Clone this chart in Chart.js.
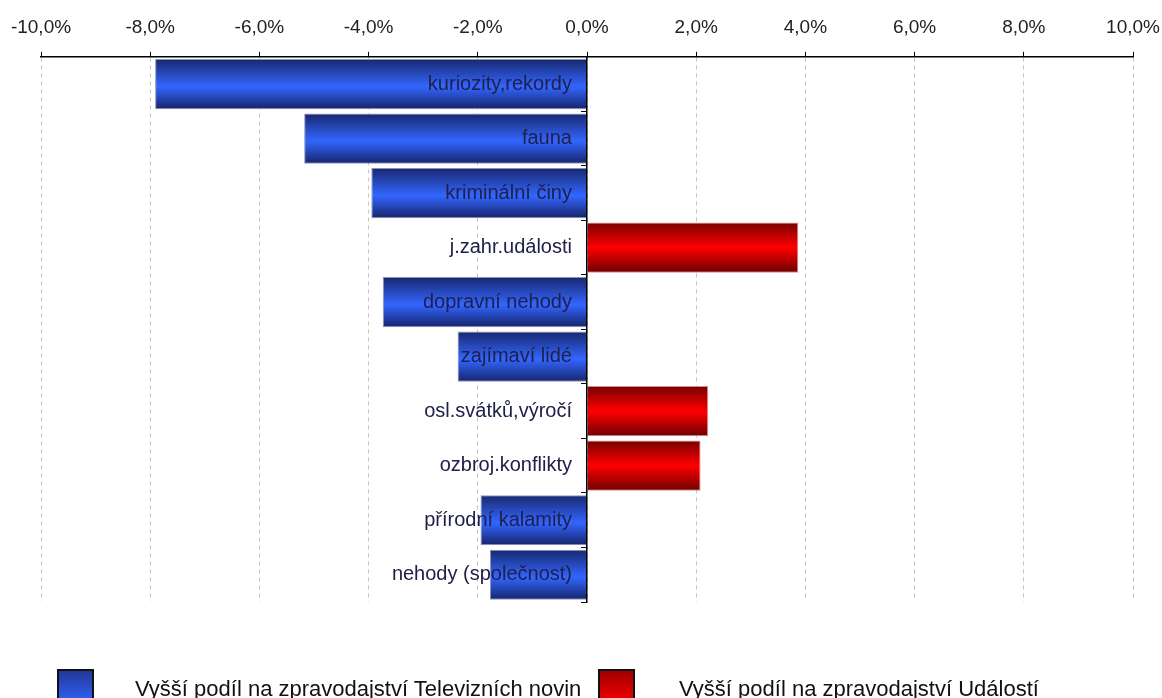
<!DOCTYPE html>
<html lang="cs">
<head>
    <meta charset="UTF-8">
    <title>Podíl témat ve zpravodajství</title>
    <script src="https://cdn.jsdelivr.net/npm/chart.js"></script>
    <style>
        html, body { margin: 0; padding: 0; background: #fff; overflow: hidden; }
        #wrap { position: relative; width: 1162px; height: 698px; }
        .legend-box {
            position: absolute; top: 669px; width: 33px; height: 40px;
            border: 2px solid #111; box-sizing: content-box;
        }
        .legend-text {
            position: absolute; top: 678px; font: 22px "Liberation Sans", Arial, sans-serif;
            color: #111; white-space: nowrap; line-height: 22px;
        }
    </style>
</head>
<body>
<div id="wrap">
    <canvas id="chart"></canvas>
    <!-- legend -->
    <div class="legend-box" style="left:57px; background: linear-gradient(to bottom, #22379a, #3366ff 85%);"></div>
    <div class="legend-text" id="legTv" style="left:135px;"></div>
    <div class="legend-box" style="left:598px; background: linear-gradient(to bottom, #a00000, #ff0000 85%);"></div>
    <div class="legend-text" id="legUd" style="left:679px;"></div>
</div>

<script>
    // categories (top to bottom)
    const categories = [
        'kuriozity,rekordy', 'fauna', 'kriminální činy', 'j.zahr.události', 'dopravní nehody',
        'zajímaví lidé', 'osl.svátků,výročí', 'ozbroj.konflikty', 'přírodní kalamity', 'nehody (společnost)'
    ];
    // difference in share (%), negative = higher share in Televizní noviny
    const tvNovinyShare = [-7.91, -5.18, -3.95, null, -3.74, -2.37, null, null, -1.95, -1.78];
    // positive = higher share in Události
    const udalostiShare = [null, null, null, 3.87, null, null, 2.22, 2.08, null, null];
    const seriesNames = ['Vyšší podíl na zpravodajství Televizních novin', 'Vyšší podíl na zpravodajství Událostí'];
    const xTicks = { min: -10, max: 10, step: 2 };

    document.getElementById('legTv').textContent = seriesNames[0];
    document.getElementById('legUd').textContent = seriesNames[1];

    const barPct = 0.92;
    const FONT = '"Liberation Sans", Arial, sans-serif';

    // vertical gradient for each bar, built from the y scale
    function barGradient(stops, fallback) {
        return function (ctx) {
            const chart = ctx.chart;
            const y = chart.scales.y;
            if (!chart.chartArea || !y || ctx.dataIndex === undefined) return fallback;
            const c = y.getPixelForValue(ctx.dataIndex);
            const half = (y.height / categories.length) * barPct / 2;
            const g = chart.ctx.createLinearGradient(0, c - half, 0, c + half);
            stops.forEach(s => g.addColorStop(s[0], s[1]));
            return g;
        };
    }

    new Chart(document.getElementById('chart'), {
        type: 'bar',
        data: {
            labels: categories,
            datasets: [{
                label: seriesNames[0],
                data: tvNovinyShare,
                backgroundColor: barGradient([[0, '#18286e'], [0.55, '#3366ff'], [1, '#16246a']], '#3366ff'),
                borderColor: '#8a93b8',
                borderWidth: 1
            }, {
                label: seriesNames[1],
                data: udalostiShare,
                backgroundColor: barGradient([[0, '#780000'], [0.5, '#ff0000'], [1, '#6e0000']], '#ff0000'),
                borderColor: '#d98c8c',
                borderWidth: 1
            }]
        },
        options: {
            indexAxis: 'y',
            responsive: true,
            maintainAspectRatio: false,
            animation: false,
            grouped: false,
            barPercentage: barPct,
            categoryPercentage: 1,
            layout: { padding: { left: 41, right: 29, top: 16, bottom: 96 } },
            plugins: {
                legend: { display: false },
                tooltip: { enabled: false }
            },
            scales: {
                x: {
                    type: 'linear',
                    position: 'top',
                    min: xTicks.min,
                    max: xTicks.max,
                    ticks: {
                        stepSize: xTicks.step,
                        padding: 0,
                        color: '#222',
                        font: { family: FONT, size: 19 },
                        callback: v => v.toFixed(1).replace('.', ',') + '%'
                    },
                    grid: {
                        color: '#c4c4c4',
                        lineWidth: 1,
                        // long tick, only the 5px next to the axis line is visible
                        tickLength: 18,
                        tickColor: '#000',
                        tickBorderDash: [5, 13],
                        tickBorderDashOffset: 5
                    },
                    border: { display: true, color: '#000', width: 1.5, dash: [4, 4] }
                },
                // axis line at 0 with the category tick marks
                y: {
                    type: 'category',
                    position: { x: 0 },
                    ticks: { display: false, z: 1 },
                    grid: {
                        drawOnChartArea: false,
                        drawTicks: true,
                        tickLength: 5,
                        tickColor: '#000',
                        offset: true,
                        z: 1
                    },
                    border: { display: true, color: '#000', width: 1.5, z: 1 }
                },
                // category names, drawn over the bars just left of 0
                yl: {
                    type: 'category',
                    axis: 'y',
                    labels: categories,
                    offset: true,
                    position: { x: -0.275 },
                    ticks: {
                        z: 1,
                        padding: 0,
                        color: '#20204a',
                        font: { family: FONT, size: 20 }
                    },
                    grid: { display: false, drawTicks: false },
                    border: { display: false }
                }
            }
        }
    });
</script>
</body>
</html>
